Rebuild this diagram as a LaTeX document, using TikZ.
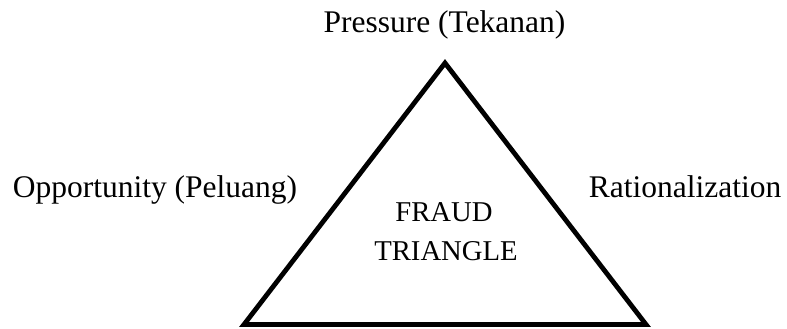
\documentclass[tikz,border=0pt]{standalone}
\usepackage{fontspec}
\setmainfont{Liberation Serif}
\begin{document}
\begin{tikzpicture}[x=1pt,y=-1pt,
  outerlabel/.style={anchor=base,inner sep=0pt,font=\fontsize{31.5}{38}\selectfont},
  innerlabel/.style={anchor=base,inner sep=0pt,font=\fontsize{28.7}{35}\selectfont},
  triedge/.style={line width=4.8pt,line join=miter}]
\useasboundingbox (0,0) rectangle (787,329);
\coordinate (apex) at (445,63);
\coordinate (bl) at (244,324.5);
\coordinate (br) at (646,324.5);
\draw[triedge] (apex) -- (br) -- (bl) -- cycle;
\node[outerlabel] (pressure) at (444.5,33) {Pressure (Tekanan)};
\node[outerlabel] (opportunity) at (155,197) {Opportunity (Peluang)};
\node[outerlabel] (rational) at (685,197) {Rationalization};
\node[innerlabel] (fraud) at (444,221) {FRAUD};
\node[innerlabel] (triangle) at (446,260) {TRIANGLE};
\end{tikzpicture}
\end{document}
